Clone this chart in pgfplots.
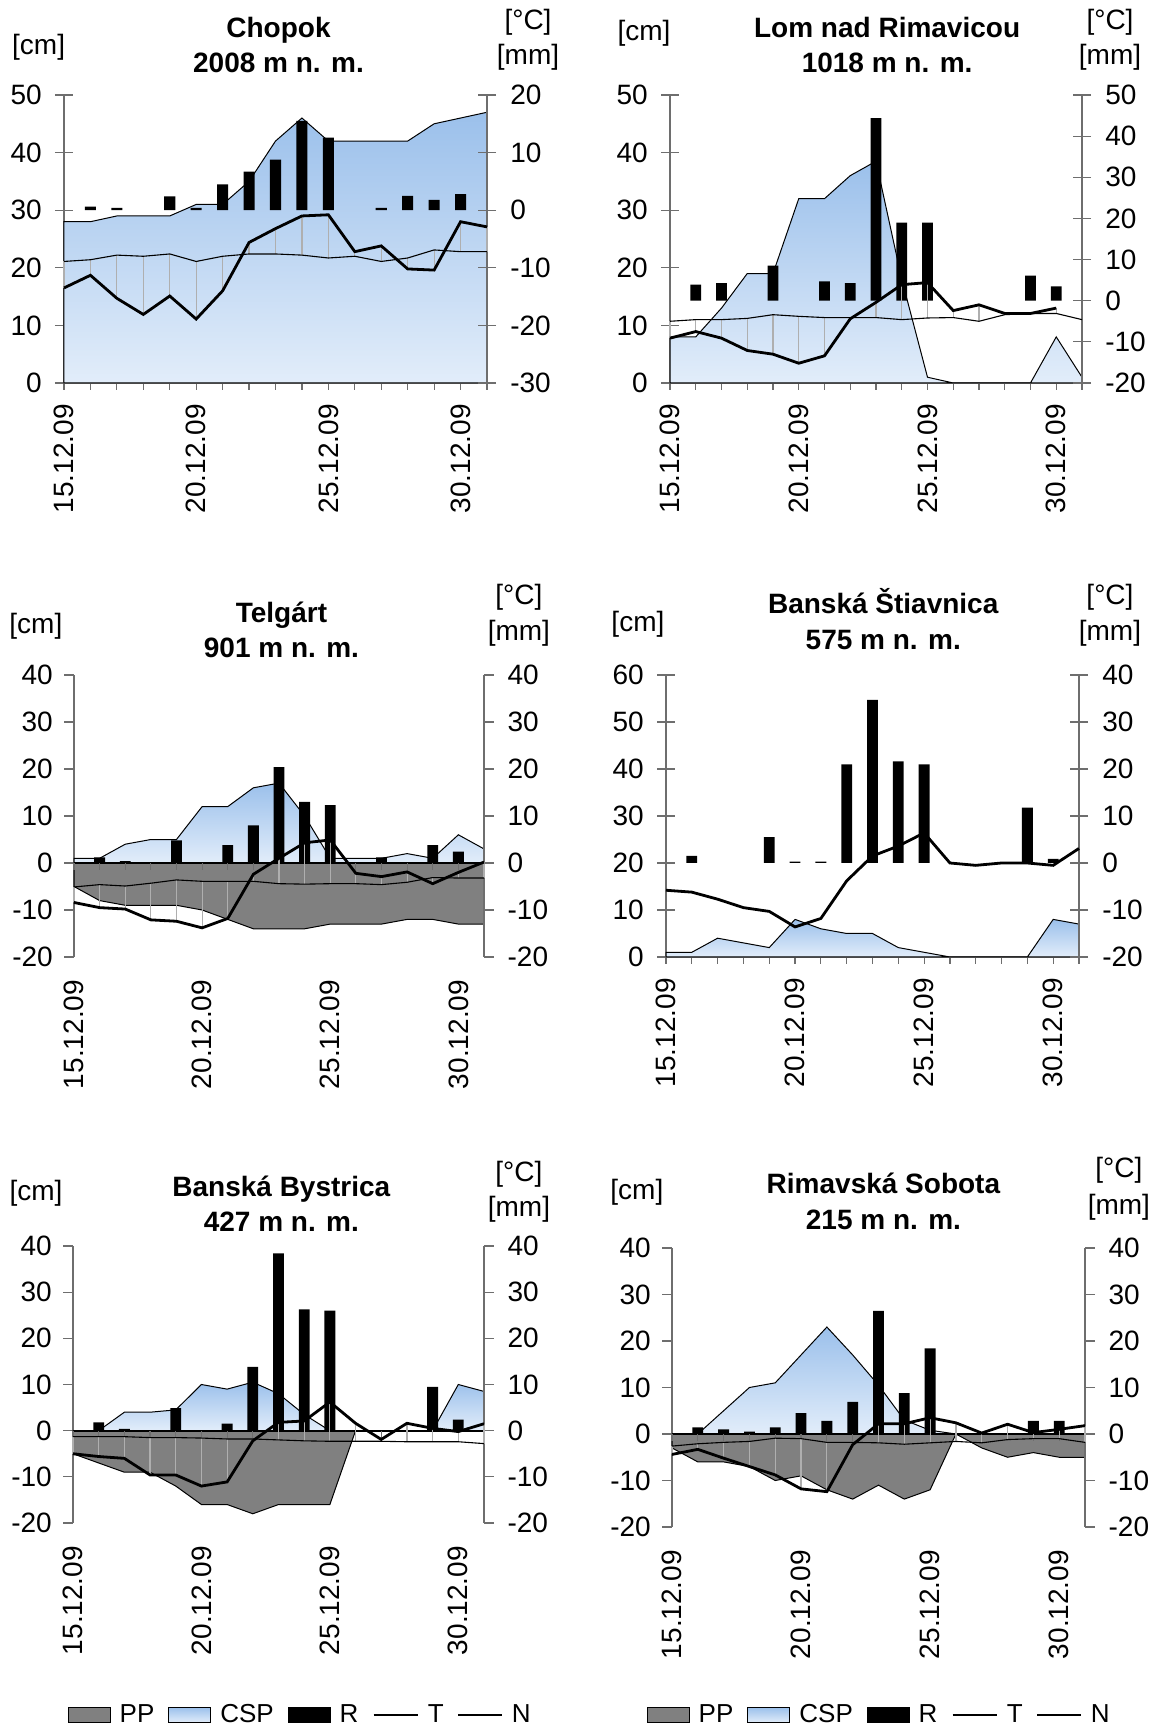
\documentclass[border=0pt]{standalone}
\usepackage{pgfplots}
\pgfplotsset{compat=1.18}
\usepackage{pgfplotstable}
\usepackage{fontspec}
\setmainfont{Liberation Sans}
\newcommand{\tfont}{\fontsize{14}{17.7}\selectfont}
\newcommand{\lfont}{\fontsize{13}{15}\selectfont}
\definecolor{ppgray}{RGB}{128,128,128}
\definecolor{csptop}{RGB}{155,192,235}
\definecolor{cspbot}{RGB}{226,237,250}
\definecolor{axc}{RGB}{110,110,110}
\definecolor{dropc}{RGB}{175,175,175}

\pgfplotsset{
  panel/.style={scale only axis, xmin=0, xmax=16, clip=false,
    /pgf/number format/assume math mode=true,
    tick label style={font=\tfont},
    axis line style={axc, line width=0.6pt},
    tick style={axc, line width=0.6pt},
    ytick distance=10},
  leftax/.style={panel, axis y line*=left, axis x line*=bottom,
    xtick={0,...,16},
    xticklabels={15.12.09,,,,,20.12.09,,,,,25.12.09,,,,,30.12.09,},
    xticklabel style={rotate=90, anchor=east}},
  rightax/.style={panel, axis y line*=right, axis x line=none},
  crossticks/.style={ytick align=center, ytick style={/pgfplots/major tick length=9pt},
    xtick align=outside, xtick style={/pgfplots/major tick length=3.5pt},
    xticklabel style={xshift=-2.8pt}},
  lcross/.style={crossticks, yticklabel style={xshift=-5.5pt}},
  rcross/.style={crossticks, yticklabel style={xshift=6pt}},
  outticks/.style={ytick align=outside, ytick style={/pgfplots/major tick length=4.8pt}},
  lout/.style={outticks, yticklabel style={xshift=-2.8pt}},
  rout/.style={outticks, yticklabel style={xshift=4pt}},
  hidex/.style={x axis line style={draw=none}, xtick style={draw=none}, xticklabel style={xshift=-8pt}},
  csp/.style={draw=black, line width=0.5pt, top color=csptop, bottom color=cspbot},
  pp/.style={draw=black, line width=0.5pt, fill=ppgray},
  rbar/.style={ybar, bar width=0.42, fill=black, draw=none},
  tline/.style={black, line width=1.4pt, mark=none},
  nline/.style={black, line width=0.55pt, mark=none},
  drops/.style={draw=none, mark=none, error bars/y dir=plus, error bars/y explicit,
    error bars/error mark=none, error bars/error bar style={draw=dropc, line width=0.6pt}},
  botlegend/.style={legend style={at={#1}, anchor=center, draw=none, fill=none, legend columns=5, font=\lfont,
    /tikz/every odd column/.append style={column sep=2.5pt},
    /tikz/every even column/.append style={column sep=5pt}}},
}

\pgfplotstableread{
i CSP R T N
0 28 nan -13.5 -8.9
1 28 0.6 -11.3 -8.6
2 29 0.4 -15.3 -7.8
3 29 nan -18.1 -8.0
4 29 2.4 -14.9 -7.6
5 31 0.4 -18.9 -8.9
6 31 4.5 -14.0 -8.0
7 35 6.7 -5.6 -7.6
8 42 8.8 -3.2 -7.6
9 46 15.5 -1.0 -7.8
10 42 12.6 -0.8 -8.3
11 42 nan -7.2 -8.0
12 42 0.4 -6.2 -8.9
13 42 2.5 -10.2 -8.3
14 45 1.8 -10.4 -6.9
15 46 2.8 -2.0 -7.2
16 47 nan -2.9 -7.2
}\tabChopok

\pgfplotstableread{
i CSP R T N
0 8 nan -9.1 -5.0
1 8 3.9 -7.5 -4.6
2 13 4.3 -9.1 -4.6
3 19 nan -12.1 -4.3
4 19 8.5 -13.0 -3.4
5 32 nan -15.2 -3.8
6 32 4.7 -13.4 -4.1
7 36 4.3 -4.4 -4.1
8 38.5 44.4 -0.4 -4.1
9 18 19 3.9 -4.6
10 1 19 4.4 -4.2
11 0 nan -2.4 -4.1
12 0 nan -1.0 -5.0
13 0 nan -3.1 -3.4
14 0 6.1 -3.1 -3.1
15 8 3.5 -1.8 -3.1
16 1 nan nan -4.6
}\tabLom

\pgfplotstableread{
i CSP PP R T N
0 1 -5 nan -8.4 -5.1
1 1 -8 1.2 -9.5 -4.6
2 4 -9 0.4 -9.8 -4.9
3 5 -9 nan -12.1 -4.3
4 5 -9 4.8 -12.4 -3.6
5 12 -10 nan -13.8 -3.9
6 12 -12 3.8 -11.8 -3.9
7 16 -14 8.0 -2.4 -3.9
8 17 -14 20.4 1.0 -4.4
9 10 -14 13 4.3 -4.5
10 1 -13 12.3 4.9 -4.4
11 1 -13 nan -2.2 -4.4
12 1 -13 1.2 -2.9 -4.6
13 2 -12 nan -1.9 -4.1
14 1 -12 3.8 -4.4 -3.1
15 6 -13 2.4 -2.0 -3.2
16 3 -13 nan 0.2 -3.2
}\tabTelgart

\pgfplotstableread{
i CSP R T
0 1 nan -5.8
1 1 1.5 -6.2
2 4 nan -7.7
3 3 nan -9.5
4 2 5.5 -10.3
5 8 0.3 -13.6
6 6 0.3 -11.8
7 5 21 -3.8
8 5 34.7 1.5
9 2 21.6 3.6
10 1 21 6.4
11 0 nan 0
12 0 nan -0.5
13 0 nan 0
14 0 11.8 0
15 8 0.9 -0.5
16 7 nan 3.1
}\tabStiav

\pgfplotstableread{
i CSP PP R T N
0 0 -5 nan -5.0 -1.3
1 0 -7 1.8 -5.6 -1.3
2 4 -9 0.4 -6.0 -1.3
3 4 -9 nan -9.6 -1.5
4 4.5 -12 4.9 -9.6 -1.5
5 10 -16 nan -12.0 -1.6
6 9 -16 1.5 -11.1 -1.8
7 10.5 -18 13.8 -2.2 -1.8
8 8 -16 38.4 1.8 -2.0
9 3.5 -16 26.3 2.1 -2.2
10 0 -16 26 6.2 -2.3
11 0 0 nan 1.6 -2.3
12 0 0 nan -1.9 -2.3
13 0 0 nan 1.6 -2.4
14 0 0 9.5 0.5 -2.4
15 10 0 2.4 -0.2 -2.4
16 8.5 0 nan 1.5 -2.8
}\tabBystrica

\pgfplotstableread{
i CSP PP R T N
0 0 -3 nan -4.4 -2.6
1 0 -6 1.4 -3.3 -2.1
2 5 -6 1.0 -5.2 -1.8
3 10 -7 0.5 -7.0 -1.6
4 11 -10 1.4 -8.8 -0.9
5 17 -9 4.5 -11.8 -1.0
6 23 -12 2.8 -12.4 -1.8
7 17 -14 6.9 -2.3 -1.8
8 10.5 -11 26.5 2.2 -1.9
9 3 -14 8.8 2.2 -2.2
10 0.8 -12 18.4 3.5 -1.9
11 0 0 nan 2.4 -1.6
12 0 -3 nan 0.2 -1.9
13 0 -5 nan 2.1 -1.2
14 0 -4 2.8 0.3 -1.0
15 0 -5 2.8 1.0 -1.0
16 0 -5 nan 1.8 -1.8
}\tabSobota

\newcommand{\legendentries}{%
\addlegendimage{legend image code/.code={\draw[draw=black, line width=0.5pt, fill=ppgray] (0pt,-3.8pt) rectangle (21pt,3.8pt);}}
\addlegendentry{PP}
\addlegendimage{legend image code/.code={\draw[draw=black, line width=0.5pt, top color=csptop, bottom color=cspbot] (0pt,-3.8pt) rectangle (21pt,3.8pt);}}
\addlegendentry{CSP}
\addlegendimage{legend image code/.code={\fill[black] (0pt,-3.8pt) rectangle (21pt,3.8pt);}}
\addlegendentry{R}
\addlegendimage{legend image code/.code={\draw[black, line width=1.2pt] (0pt,0pt) -- (22pt,0pt);}}
\addlegendentry{T}
\addlegendimage{legend image code/.code={\draw[black, line width=0.55pt] (0pt,0pt) -- (22pt,0pt);}}
\addlegendentry{N}
}

\begin{document}
\begin{tikzpicture}
\path[use as bounding box] (0pt,0pt) rectangle (577.5pt,865.5pt);

% ---------------- Chopok
\begin{axis}[leftax, lcross, at={(32pt,674pt)}, anchor=south west, width=211.5pt, height=144pt, ymin=0, ymax=50]
\addplot[csp] table[x=i,y=CSP]{\tabChopok} \closedcycle;
\node[font=\tfont] at (rel axis cs:-0.06,1.165) {[cm]};
\node[font=\tfont\bfseries, align=center] at (rel axis cs:0.507,1.173) {Chopok\\2008 m n. m.};
\end{axis}
\begin{axis}[rightax, rcross, at={(32pt,674pt)}, anchor=south west, width=211.5pt, height=144pt, ymin=-30, ymax=20]
\addplot[rbar] table[x=i,y=R]{\tabChopok};
\addplot[drops] table[x=i,y=T,y error expr=\thisrow{N}-\thisrow{T}]{\tabChopok};
\addplot[nline] table[x=i,y=N]{\tabChopok};
\addplot[tline] table[x=i,y=T]{\tabChopok};
\node[font=\tfont] at (rel axis cs:1.097,1.253) {[°C]};
\node[font=\tfont] at (rel axis cs:1.097,1.13) {[mm]};
\end{axis}

% ---------------- Lom nad Rimavicou
\begin{axis}[leftax, lcross, at={(335pt,674pt)}, anchor=south west, width=206pt, height=144pt, ymin=0, ymax=50]
\addplot[csp] table[x=i,y=CSP]{\tabLom} \closedcycle;
\node[font=\tfont] at (rel axis cs:-0.063,1.215) {[cm]};
\node[font=\tfont\bfseries, align=center] at (rel axis cs:0.527,1.173) {Lom nad Rimavicou\\1018 m n. m.};
\end{axis}
\begin{axis}[rightax, rcross, at={(335pt,674pt)}, anchor=south west, width=206pt, height=144pt, ymin=-20, ymax=50]
\addplot[rbar] table[x=i,y=R]{\tabLom};
\addplot[drops] table[x=i,y=T,y error expr=\thisrow{N}-\thisrow{T}]{\tabLom};
\addplot[nline] table[x=i,y=N]{\tabLom};
\addplot[tline] table[x=i,y=T]{\tabLom};
\node[font=\tfont] at (rel axis cs:1.068,1.253) {[°C]};
\node[font=\tfont] at (rel axis cs:1.068,1.13) {[mm]};
\end{axis}

% ---------------- Telgart
\begin{axis}[leftax, lout, hidex, at={(37pt,387pt)}, anchor=south west, width=205pt, height=141pt, ymin=-20, ymax=40]
\addplot[csp] table[x=i,y=CSP]{\tabTelgart} \closedcycle;
\addplot[pp] table[x=i,y=PP]{\tabTelgart} \closedcycle;
\draw[black, line width=1pt] (axis cs:0,0) -- (axis cs:16,0);
\pgfplotsinvokeforeach{0,...,16}{\draw[axc, line width=0.6pt] (axis cs:#1,0) -- ++(0pt,-3.7pt);}
\node[font=\tfont] at (rel axis cs:-0.093,1.174) {[cm]};
\node[font=\tfont\bfseries, align=center] at (rel axis cs:0.506,1.16) {Telgárt\\901 m n. m.};
\end{axis}
\begin{axis}[rightax, rout, at={(37pt,387pt)}, anchor=south west, width=205pt, height=141pt, ymin=-20, ymax=40]
\addplot[rbar] table[x=i,y=R]{\tabTelgart};
\addplot[drops] table[x=i,y=T,y error expr=\thisrow{N}-\thisrow{T}]{\tabTelgart};
\addplot[nline] table[x=i,y=N]{\tabTelgart};
\addplot[tline] table[x=i,y=T]{\tabTelgart};
\node[font=\tfont] at (rel axis cs:1.085,1.277) {[°C]};
\node[font=\tfont] at (rel axis cs:1.085,1.149) {[mm]};
\end{axis}

% ---------------- Banska Stiavnica
\begin{axis}[leftax, lcross, at={(333pt,387pt)}, anchor=south west, width=206.5pt, height=141pt, ymin=0, ymax=60]
\addplot[csp] table[x=i,y=CSP]{\tabStiav} \closedcycle;
\node[font=\tfont] at (rel axis cs:-0.068,1.18) {[cm]};
\node[font=\tfont\bfseries, align=center] at (rel axis cs:0.526,1.199) {Banská Štiavnica\\575 m n. m.};
\end{axis}
\begin{axis}[rightax, rcross, at={(333pt,387pt)}, anchor=south west, width=206.5pt, height=141pt, ymin=-20, ymax=40]
\addplot[rbar] table[x=i,y=R]{\tabStiav};
\addplot[tline] table[x=i,y=T]{\tabStiav};
\node[font=\tfont] at (rel axis cs:1.075,1.277) {[°C]};
\node[font=\tfont] at (rel axis cs:1.075,1.149) {[mm]};
\end{axis}

% ---------------- Banska Bystrica
\begin{axis}[leftax, lout, hidex, at={(36.5pt,104pt)}, anchor=south west, width=205.5pt, height=138.5pt, ymin=-20, ymax=40]
\addplot[csp] table[x=i,y=CSP]{\tabBystrica} \closedcycle;
\addplot[pp] table[x=i,y=PP]{\tabBystrica} \closedcycle;
\draw[black, line width=1pt] (axis cs:0,0) -- (axis cs:16,0);
\pgfplotsinvokeforeach{0,...,16}{\draw[axc, line width=0.6pt] (axis cs:#1,0) -- ++(0pt,-3.7pt);}
\node[font=\tfont] at (rel axis cs:-0.09,1.19) {[cm]};
\node[font=\tfont\bfseries, align=center] at (rel axis cs:0.507,1.153) {Banská Bystrica\\427 m n. m.};
\end{axis}
\begin{axis}[rightax, rout, at={(36.5pt,104pt)}, anchor=south west, width=205.5pt, height=138.5pt, ymin=-20, ymax=40,
  botlegend={(0.555,-0.693)}]
\legendentries
\addplot[rbar, forget plot] table[x=i,y=R]{\tabBystrica};
\addplot[drops, forget plot] table[x=i,y=T,y error expr=\thisrow{N}-\thisrow{T}]{\tabBystrica};
\addplot[nline, forget plot] table[x=i,y=N]{\tabBystrica};
\addplot[tline, forget plot] table[x=i,y=T]{\tabBystrica};
\node[font=\tfont] at (rel axis cs:1.085,1.26) {[°C]};
\node[font=\tfont] at (rel axis cs:1.085,1.134) {[mm]};
\end{axis}

% ---------------- Rimavska Sobota
\begin{axis}[leftax, lout, hidex, at={(336pt,102pt)}, anchor=south west, width=206.5pt, height=139.5pt, ymin=-20, ymax=40]
\addplot[csp] table[x=i,y=CSP]{\tabSobota} \closedcycle;
\addplot[pp] table[x=i,y=PP]{\tabSobota} \closedcycle;
\draw[black, line width=1pt] (axis cs:0,0) -- (axis cs:16,0);
\pgfplotsinvokeforeach{0,...,16}{\draw[axc, line width=0.6pt] (axis cs:#1,0) -- ++(0pt,-3.7pt);}
\node[font=\tfont] at (rel axis cs:-0.085,1.2) {[cm]};
\node[font=\tfont\bfseries, align=center] at (rel axis cs:0.512,1.167) {Rimavská Sobota\\215 m n. m.};
\end{axis}
\begin{axis}[rightax, rout, at={(336pt,102pt)}, anchor=south west, width=206.5pt, height=139.5pt, ymin=-20, ymax=40,
  botlegend={(0.504,-0.674)}]
\legendentries
\addplot[rbar, forget plot] table[x=i,y=R]{\tabSobota};
\addplot[drops, forget plot] table[x=i,y=T,y error expr=\thisrow{N}-\thisrow{T}]{\tabSobota};
\addplot[nline, forget plot] table[x=i,y=N]{\tabSobota};
\addplot[tline, forget plot] table[x=i,y=T]{\tabSobota};
\node[font=\tfont] at (rel axis cs:1.082,1.28) {[°C]};
\node[font=\tfont] at (rel axis cs:1.082,1.147) {[mm]};
\end{axis}
\end{tikzpicture}
\end{document}
